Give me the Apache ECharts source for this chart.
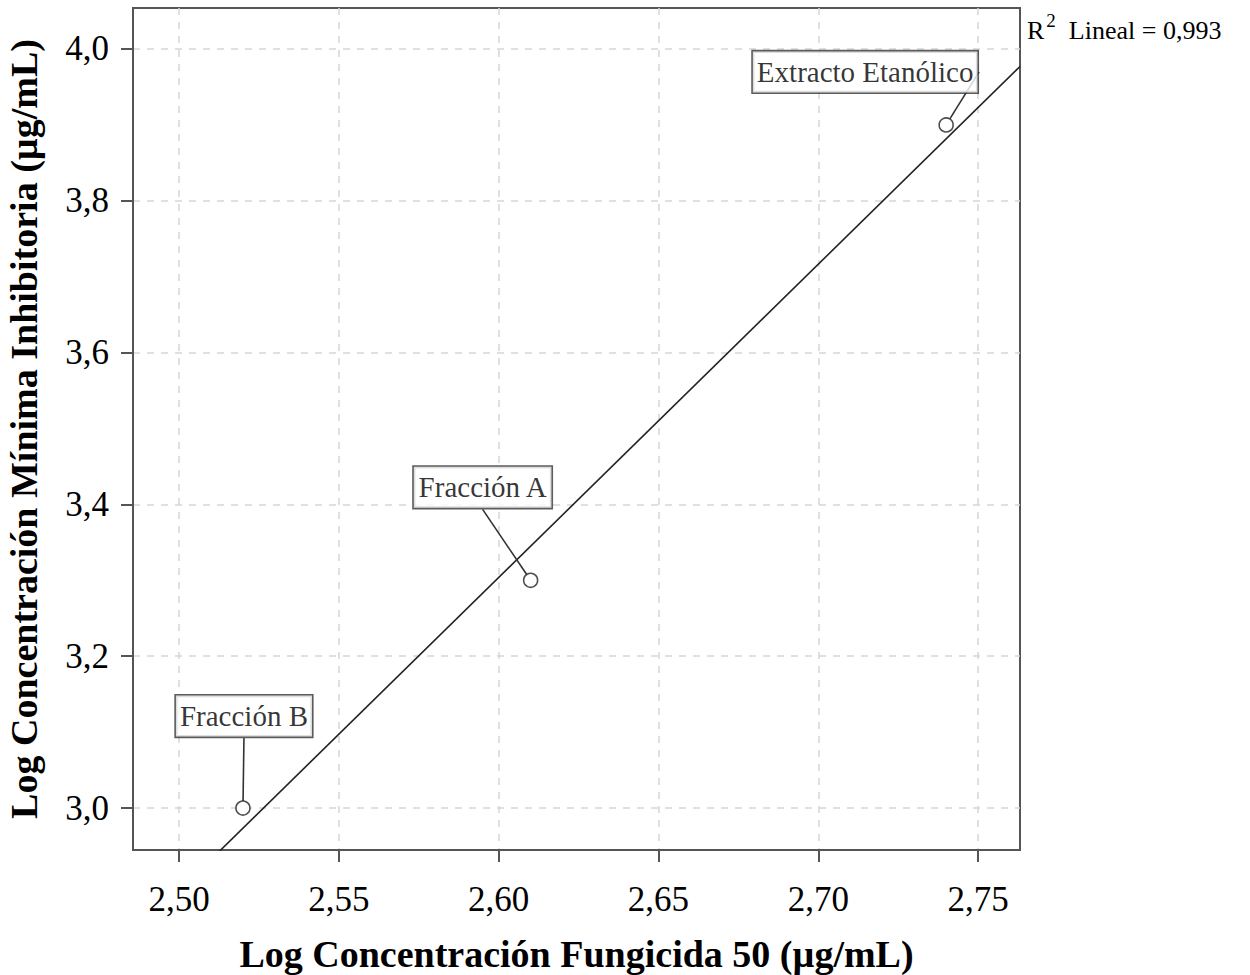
<!DOCTYPE html>
<html>
<head>
<meta charset="utf-8">
<script src="https://cdn.jsdelivr.net/npm/echarts@6/dist/echarts.min.js"></script>
<style>html,body{margin:0;padding:0;background:#fff}#c{width:1250px;height:975px}</style>
</head>
<body>
<div id="c"></div>
<script>
// ---- data ----
const pointNames = ['Fracción B', 'Fracción A', 'Extracto Etanólico'];
const xValues = [2.52, 2.61, 2.74];   // Log CF50
const yValues = [3.00, 3.30, 3.90];   // Log CMI
const xTicks = [2.50, 2.55, 2.60, 2.65, 2.70, 2.75];
const yTicks = [3.0, 3.2, 3.4, 3.6, 3.8, 4.0];
const xRange = [2.4856, 2.7631];
const yRange = [2.9447, 4.054];
const r2Text = 'Lineal = 0,993';

// least squares fit from the points
const n = xValues.length;
const mx = xValues.reduce((a, b) => a + b, 0) / n;
const my = yValues.reduce((a, b) => a + b, 0) / n;
let sxy = 0, sxx = 0;
for (let i = 0; i < n; i++) { sxy += (xValues[i] - mx) * (yValues[i] - my); sxx += (xValues[i] - mx) ** 2; }
const slope = sxy / sxx, icpt = my - slope * mx;
const fitLine = xRange.map(x => [x, icpt + slope * x]);

const labelOffsets = [[1, -92], [-48, -93], [-81, -53]];
const serif = '"Liberation Serif", "Times New Roman", serif';
const fmt1 = v => v.toFixed(1).replace('.', ',');
const fmt2 = v => v.toFixed(2).replace('.', ',');

const chart = echarts.init(document.getElementById('c'), null, { renderer: 'svg' });
chart.setOption({
  animation: false,
  backgroundColor: '#fff',
  title: {
    left: 1022, top: 6,
    text: '{r|R}{s|2}{t|  ' + r2Text + '}',
    textStyle: {
      fontWeight: 'normal',
      rich: {
        r: { fontFamily: serif, fontSize: 26, fontWeight: 'normal', color: '#000', verticalAlign: 'bottom', lineHeight: 32 },
        s: { fontFamily: serif, fontSize: 19, fontWeight: 'normal', color: '#000', verticalAlign: 'top', lineHeight: 32, padding: [0, 0, 12, 2] },
        t: { fontFamily: serif, fontSize: 26, fontWeight: 'normal', color: '#000', verticalAlign: 'bottom', lineHeight: 32 }
      }
    }
  },
  grid: { left: 133, right: 230, top: 8, bottom: 125, outerBoundsMode: 'none', containLabel: false,
          show: true, borderColor: '#555', borderWidth: 2, backgroundColor: 'transparent' },
  xAxis: {
    type: 'value', min: xRange[0], max: xRange[1],
    name: 'Log Concentración Fungicida 50 (µg/mL)', nameLocation: 'middle', nameGap: 85,
    nameTextStyle: { fontFamily: serif, fontSize: 38, fontWeight: 'bold', color: '#000' },
    axisLine: { show: true, onZero: false, lineStyle: { color: '#555', width: 2 } },
    axisTick: { show: true, length: 12, customValues: xTicks, lineStyle: { color: '#555', width: 2 } },
    axisLabel: { customValues: xTicks, formatter: fmt2, margin: 32, fontFamily: serif, fontSize: 35, color: '#000' },
    splitLine: { show: true, lineStyle: { color: '#d6d6d6', width: 1.5, type: [7, 7] } }
  },
  yAxis: {
    type: 'value', min: yRange[0], max: yRange[1],
    name: 'Log Concentración Mínima Inhibitoria (µg/mL)', nameLocation: 'middle', nameGap: 90,
    nameTextStyle: { fontFamily: serif, fontSize: 38, fontWeight: 'bold', color: '#000' },
    axisLine: { show: true, onZero: false, lineStyle: { color: '#555', width: 2 } },
    axisTick: { show: true, length: 12, customValues: yTicks, lineStyle: { color: '#555', width: 2 } },
    axisLabel: { customValues: yTicks, formatter: fmt1, margin: 24, fontFamily: serif, fontSize: 35, color: '#000' },
    splitLine: { show: true, lineStyle: { color: '#d6d6d6', width: 1.5, type: [7, 7] } }
  },
  series: [
    {
      type: 'line', data: fitLine, showSymbol: false, symbol: 'none', clip: true,
      lineStyle: { color: '#222', width: 1.6 }, z: 2
    },
    {
      type: 'scatter', z: 3,
      data: xValues.map((x, i) => ({ value: [x, yValues[i]], name: pointNames[i] })),
      symbol: 'circle', symbolSize: 14,
      itemStyle: { color: '#fff', borderColor: '#222', borderWidth: 1.6 },
      label: {
        show: true, position: 'inside', formatter: p => p.name,
        fontFamily: serif, fontSize: 29, color: '#000',
        backgroundColor: '#fff', borderColor: '#333', borderWidth: 1.6,
        padding: [7, 4, 5, 4]
      },
      labelLine: { show: true, lineStyle: { color: '#333', width: 1.6 } },
      labelLayout: p => ({ dx: labelOffsets[p.dataIndex][0], dy: labelOffsets[p.dataIndex][1] })
    }
  ]
});
</script>
</body>
</html>
